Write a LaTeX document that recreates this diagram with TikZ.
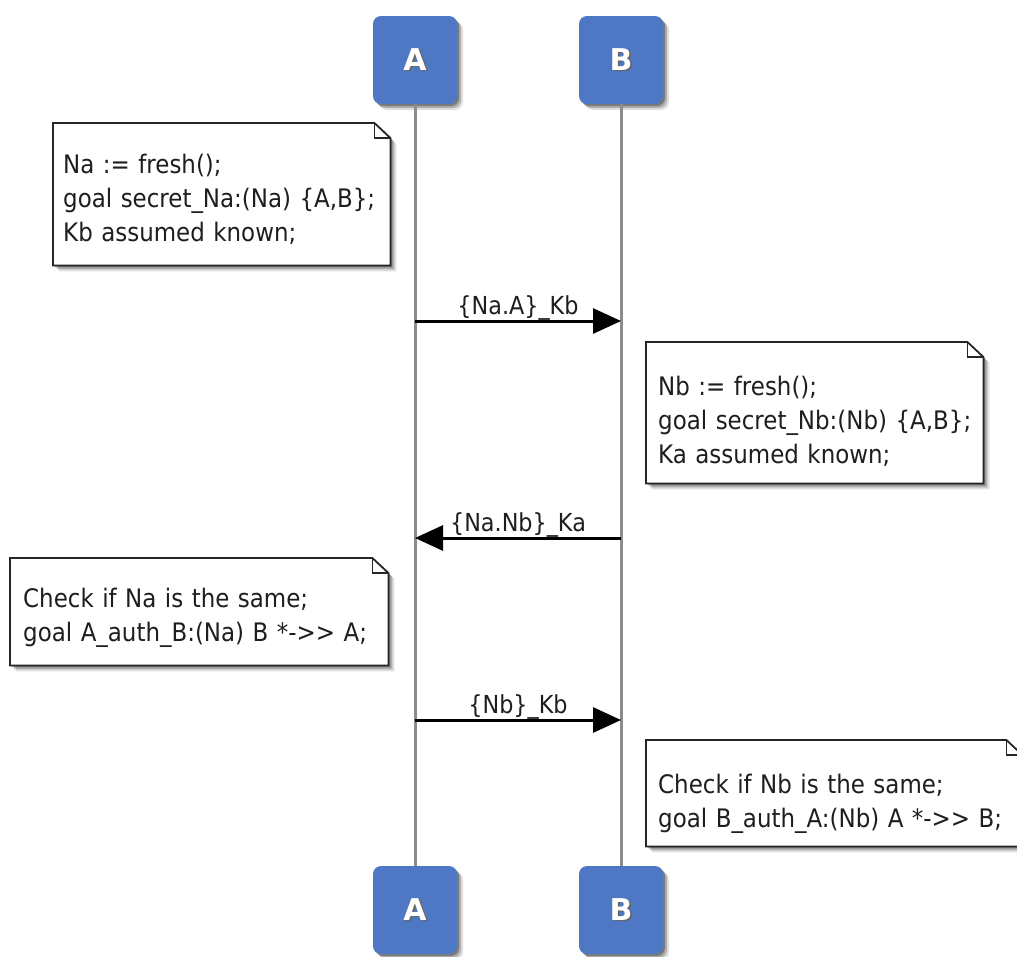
\documentclass[tikz,border=0pt]{standalone}
\usepackage{fontspec}
\setmainfont{DejaVu Sans}[FakeStretch=0.9]
\newfontfamily\actorfont{DejaVu Sans}
\usetikzlibrary{arrows.meta,shadows}

\definecolor{actorblue}{RGB}{79,120,196}
\definecolor{lifegray}{RGB}{140,140,140}
\definecolor{inkgray}{RGB}{30,30,30}

% white letter with a small dark cast shadow
\newcommand\castshadow[1]{\makebox[0pt][l]{\hspace{1.8pt}\raisebox{-1.8pt}{\textcolor{black!60}{#1}}}#1}
% two separate greater-than signs, kept apart from the font's ligature mapping
\newcommand\gtgt{\mbox{>}\mbox{>}}

% paper note with a folded top-right corner, drawn around a named box node
\newcommand\notepaper[1]{%
  \path[noteframe] (#1.north west) -- ([xshift=-16pt]#1.north east)
     -- ([yshift=-15pt]#1.north east) -- (#1.south east) -- (#1.south west) -- cycle;
  \draw[notefold] ([xshift=-16pt]#1.north east) -- ([xshift=-16pt,yshift=-15pt]#1.north east)
     -- ([yshift=-15pt]#1.north east);
}

\begin{document}
\begin{tikzpicture}[x=1pt,y=-1pt,
  softshadow/.style={
    drop shadow={shadow xshift=2pt,shadow yshift=-2pt,opacity=0.3,fill=black},
    drop shadow={shadow xshift=4pt,shadow yshift=-4pt,opacity=0.22,fill=black},
    drop shadow={shadow xshift=6pt,shadow yshift=-6pt,opacity=0.12,fill=black}},
  actor/.style={rectangle,rounded corners=8pt,fill=actorblue,
    minimum width=84pt,minimum height=88pt,inner sep=0pt,softshadow,
    text=white,font=\actorfont\bfseries\fontsize{30}{32}\selectfont},
  lifeline/.style={draw=lifegray,line width=3pt},
  msg/.style={draw=black,line width=3pt,-{Triangle[length=28pt,width=25pt]}},
  msglabel/.style={font=\fontsize{24.8}{30}\selectfont,anchor=base,inner sep=0pt,
    yshift=7pt,text=inkgray},
  notebox/.style={rectangle,inner sep=0pt,anchor=north west},
  noteframe/.style={draw=black!85,line width=1.8pt,fill=white,line join=miter,softshadow},
  notefold/.style={draw=black!85,line width=1.3pt},
  notetext/.style={anchor=base west,inner sep=0pt,text width=390pt,align=left,
    text=inkgray,font=\fontsize{25.5}{34}\selectfont},
]
\useasboundingbox (0,0) rectangle (1017,956);
\clip (0,0) rectangle (1017,956);

% participants
\node[actor] (Atop) at (415,60) {\castshadow{A}};
\node[actor] (Btop) at (621,60) {\castshadow{B}};
\node[actor] (Abot) at (415,910) {\castshadow{A}};
\node[actor] (Bbot) at (621,910) {\castshadow{B}};

% lifelines
\draw[lifeline] (Atop.south) -- (Abot.north);
\draw[lifeline] (Btop.south) -- (Bbot.north);

% message end points on the lifelines
\coordinate (a1) at (415,321);
\coordinate (b1) at (621,321);
\coordinate (a2) at (415,538);
\coordinate (b2) at (621,538);
\coordinate (a3) at (415,720);
\coordinate (b3) at (621,720);

% note 1
\node[notebox,minimum width=337pt,minimum height=142pt] (n1) at (53,123) {};
\notepaper{n1}
\node[notetext] (t1) at (63,173) {Na := fresh();\\goal secret\_Na:(Na) \{A,B\};\\Kb assumed known;};

% message 1
\draw[msg] (a1) -- node[msglabel,midway] (l1) {\{Na.A\}\_Kb} (b1);

% note 2
\node[notebox,minimum width=337pt,minimum height=141pt] (n2) at (646,342) {};
\notepaper{n2}
\node[notetext] (t2) at (658,395) {Nb := fresh();\\goal secret\_Nb:(Nb) \{A,B\};\\Ka assumed known;};

% message 2
\draw[msg] (b2) -- node[msglabel,midway] (l2) {\{Na.Nb\}\_Ka} (a2);

% note 3
\node[notebox,minimum width=378pt,minimum height=107pt] (n3) at (10,558) {};
\notepaper{n3}
\node[notetext] (t3) at (23,607) {Check if Na is the same;\\goal A\_auth\_B:(Na) B *-\gtgt{} A;};

% message 3
\draw[msg] (a3) -- node[msglabel,midway] (l3) {\{Nb\}\_Kb} (b3);

% note 4
\node[notebox,minimum width=376pt,minimum height=106pt] (n4) at (646,740) {};
\notepaper{n4}
\node[notetext] (t4) at (658,793) {Check if Nb is the same;\\goal B\_auth\_A:(Nb) A *-\gtgt{} B;};
\end{tikzpicture}
\end{document}
